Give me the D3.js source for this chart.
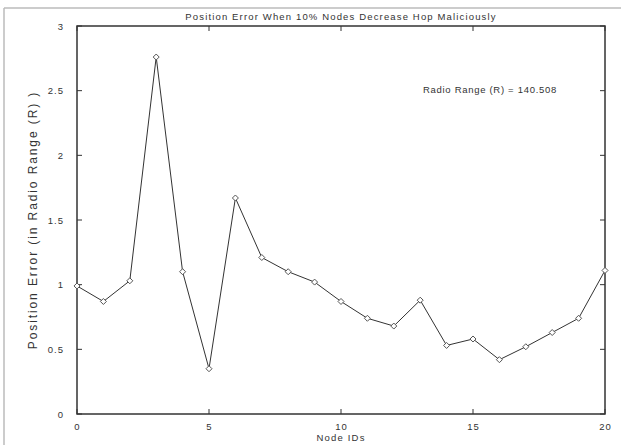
<!DOCTYPE html>
<html><head><meta charset="utf-8">
<script src="https://cdn.jsdelivr.net/npm/d3@7"></script>
<style>
body{margin:0;background:#fff;}
text{font-family:"Liberation Sans",Arial,sans-serif;fill:#333;}
</style></head><body>
<svg id="c" width="621" height="445"></svg>
<script>
const nodeIds = d3.range(0, 21);
const positionError = [0.99, 0.87, 1.03, 2.76, 1.10, 0.35, 1.67, 1.21, 1.10, 1.02, 0.87, 0.74, 0.68, 0.88, 0.53, 0.58, 0.42, 0.52, 0.63, 0.74, 1.11];
const xTicks = [0, 5, 10, 15, 20];
const yTicks = [0, 0.5, 1, 1.5, 2, 2.5, 3];
const yTickLabels = ["0", "0.5", "1", "1.5", "2", "2.5", "3"];
const titleText = "Position Error When 10% Nodes Decrease Hop Maliciously";
const xLabel = "Node IDs";
const yLabel = "Position Error (in Radio Range (R) )";
const note = "Radio Range (R) = 140.508";

const svg = d3.select("#c");
const L = 77, R = 605, T = 26, B = 414;
const x = d3.scaleLinear().domain([0, 20]).range([L, R]);
const y = d3.scaleLinear().domain([0, 3]).range([B, T]);

svg.append("line").attr("x1",4).attr("y1",8).attr("x2",621).attr("y2",8).attr("stroke","#bbb").attr("stroke-width",1.5);
svg.append("line").attr("x1",4).attr("y1",8).attr("x2",4).attr("y2",445).attr("stroke","#bbb").attr("stroke-width",1.5);

const tl = 5;
const gx = svg.append("g");
xTicks.forEach(t => {
  gx.append("line").attr("x1",x(t)).attr("x2",x(t)).attr("y1",B).attr("y2",B-tl).attr("stroke","#333");
  gx.append("line").attr("x1",x(t)).attr("x2",x(t)).attr("y1",T).attr("y2",T+tl).attr("stroke","#333");
  gx.append("text").attr("x",x(t)+0.5).attr("y",B+16).attr("text-anchor","middle").attr("font-size",9.5).attr("letter-spacing",1).text(d3.format("d")(t));
});
const gy = svg.append("g");
yTicks.forEach((t,i) => {
  gy.append("line").attr("x1",L).attr("x2",L+tl).attr("y1",y(t)).attr("y2",y(t)).attr("stroke","#333");
  gy.append("line").attr("x1",R).attr("x2",R-tl).attr("y1",y(t)).attr("y2",y(t)).attr("stroke","#333");
  gy.append("text").attr("x",L-13).attr("y",y(t)+3.5).attr("text-anchor","end").attr("font-size",9.5).attr("letter-spacing",1).text(yTickLabels[i]);
});

svg.append("rect").attr("x",L).attr("y",T).attr("width",R-L).attr("height",B-T)
  .attr("fill","none").attr("stroke","#333").attr("stroke-width",1.5);

const line = d3.line().x((d,i)=>x(nodeIds[i])).y(d=>y(d));
svg.append("path").datum(positionError).attr("d",line).attr("fill","none").attr("stroke","#333").attr("stroke-width",1);

svg.append("g").selectAll("path").data(positionError).join("path")
  .attr("transform",(d,i)=>`translate(${x(nodeIds[i])},${y(d)})`)
  .attr("d","M0,-3L3,0L0,3L-3,0Z")
  .attr("fill","#fff").attr("stroke","#555").attr("stroke-width",1);

svg.append("text").attr("x",(L+R)/2).attr("y",20).attr("text-anchor","middle").attr("font-size",9.5).attr("letter-spacing",1.15).text(titleText);
svg.append("text").attr("x",(L+R)/2).attr("y",441).attr("text-anchor","middle").attr("font-size",9.5).attr("letter-spacing",1.2).text(xLabel);
svg.append("text").attr("transform",`translate(37,${(T+B)/2}) rotate(-90)`).attr("text-anchor","middle").attr("font-size",12).attr("letter-spacing",1.9).text(yLabel);
svg.append("text").attr("x",423).attr("y",93).attr("font-size",9.5).attr("letter-spacing",0.7).text(note);
</script></body></html>
